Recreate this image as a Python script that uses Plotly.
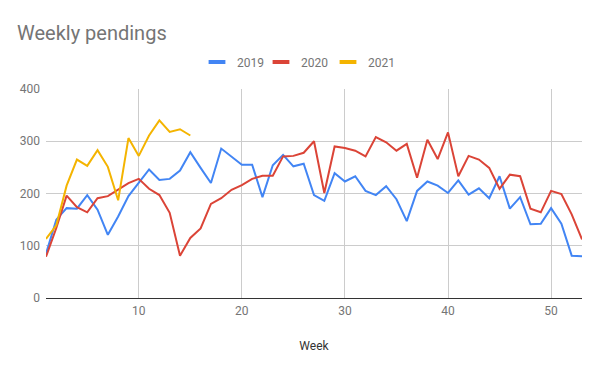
import plotly.graph_objects as go

weeks = list(range(1, 54))
y2019 = [85, 150, 172, 171, 197, 169, 121, 156, 195, 220, 246, 226, 228, 244, 279, 249, 220, 286, 271, 255,
         255, 193, 254, 274, 252, 257, 197, 186, 239, 223, 233, 205, 197, 214, 189, 147, 205, 223, 215, 201,
         225, 198, 210, 191, 233, 171, 193, 141, 142, 172, 142, 81, 80]
y2020 = [79, 134, 196, 174, 164, 191, 195, 207, 220, 228, 209, 197, 163, 81, 115, 133, 180, 191, 207, 216,
         228, 234, 234, 271, 272, 278, 300, 201, 290, 287, 282, 271, 308, 298, 282, 295, 230, 303, 266, 317,
         233, 272, 265, 249, 209, 236, 233, 171, 164, 205, 199, 160, 112]
weeks2021 = list(range(1, 16))
y2021 = [113, 139, 215, 265, 253, 283, 251, 187, 306, 272, 311, 340, 318, 323, 311]

series = [("2019", weeks, y2019, "#4285F4"),
          ("2020", weeks, y2020, "#DB4437"),
          ("2021", weeks2021, y2021, "#F4B400")]

W, H = 600, 371
T, B = 40, 73
plot_top = 89
dom_top = 1 - (plot_top - T) / (H - T - B)
legend_y = (H - B - 62) / (H - T - B)
legend_left_px = [197, 261, 328]
legend_ids = ["legend", "legend2", "legend3"]

fig = go.Figure()
for name, xs, ys, col in series:
    fig.add_trace(go.Scatter(x=xs, y=ys, mode="lines", name=name, showlegend=False,
                             line=dict(color=col, width=2)))
for (name, xs, ys, col), lid in zip(series, legend_ids):
    fig.add_trace(go.Scatter(x=[None], y=[None], mode="markers", name=name, legend=lid,
                             marker=dict(symbol="line-ew", size=12,
                                         line=dict(color=col, width=4))))

legend_common = dict(orientation="h", xref="container", xanchor="left",
                     yref="paper", y=legend_y, yanchor="middle",
                     font=dict(size=12, color="#757575"), itemwidth=30,
                     bgcolor="rgba(0,0,0,0)")

fig.update_layout(
    width=W, height=H,
    paper_bgcolor="white", plot_bgcolor="white",
    font=dict(family="Roboto", color="#757575", size=12),
    title=dict(text="Weekly pendings", x=0, xref="container", xanchor="left",
               pad=dict(l=17), y=1 - 33 / H, yanchor="middle",
               font=dict(family="Roboto", size=20, color="#757575")),
    margin=dict(l=46, r=18, t=T, b=B, autoexpand=False),
    legend=dict(x=legend_left_px[0] / W, **legend_common),
    legend2=dict(x=legend_left_px[1] / W, **legend_common),
    legend3=dict(x=legend_left_px[2] / W, **legend_common),
    showlegend=True,
)
fig.update_xaxes(range=[1, 53], tickvals=[10, 20, 30, 40, 50], showgrid=True,
                 gridcolor="#cccccc", gridwidth=1, zeroline=False, showline=False,
                 ticks="", ticklabelstandoff=4, tickfont=dict(size=12, color="#757575"),
                 title=dict(text="Week", font=dict(size=12, color="#333333"), standoff=24))
fig.update_yaxes(range=[0, 400], tickvals=[0, 100, 200, 300, 400], showgrid=True,
                 domain=[0, dom_top],
                 gridcolor="#cccccc", gridwidth=1, zeroline=True, zerolinecolor="#333333",
                 zerolinewidth=1, showline=False, ticks="", ticklabelstandoff=5,
                 tickfont=dict(size=12, color="#757575"))

fig.write_html("out.html", config={"displayModeBar": False},
               post_script="document.body.style.margin='0';document.body.style.padding='0';")
